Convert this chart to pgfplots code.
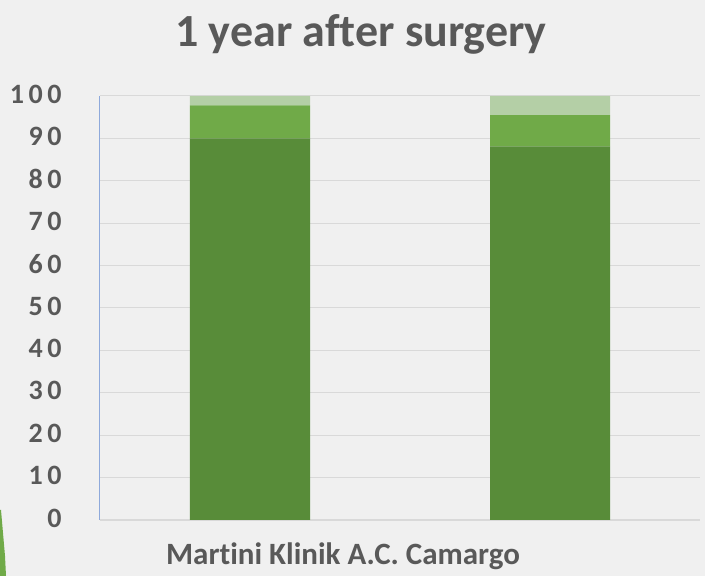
\documentclass[border=0pt]{standalone}
\usepackage{pgfplots}
\pgfplotsset{compat=1.18}
\usepackage{fontspec}
\setmainfont[Ligatures=NoCommon]{Carlito}
\newfontfamily\tickfont[LetterSpace=16]{Carlito}
\newcommand\tickf{\tickfont\bfseries\fontsize{28}{30}\selectfont}
\definecolor{bg}{HTML}{F0F0F0}
\definecolor{txt}{HTML}{595959}
\definecolor{gdark}{HTML}{588C39}
\definecolor{gmid}{HTML}{70AA48}
\definecolor{glight}{HTML}{B4CFA6}
\definecolor{gridc}{HTML}{D9D9D9}
\definecolor{axblue}{HTML}{8EA9DB}
\begin{document}
\begin{tikzpicture}
\useasboundingbox (0pt,0pt) rectangle (705pt,576pt);
\fill[bg] (0pt,0pt) rectangle (705pt,576pt);
\fill[gmid] (0pt,66pt) -- (1pt,66pt) -- (5pt,20pt) -- (6pt,0pt) -- (0pt,0pt) -- cycle;
\node[txt,font=\fontsize{46}{50}\selectfont\bfseries] at (361pt,542pt) {1 year after surgery};
\node[txt,font=\fontsize{31}{34}\selectfont\bfseries] at (343pt,20pt) {Martini Klinik A.C. Camargo};
\begin{axis}[
  at={(100pt,56pt)}, anchor=south west,
  scale only axis, width=600pt, height=424pt,
  xmin=-0.5, xmax=1.5, ymin=0, ymax=100,
  ybar stacked, bar width=120pt,
  ytick={0,10,...,100},
  xtick=\empty,
  ymajorgrids, grid style={gridc, line width=1pt},
  axis line style={draw=none},
  y tick label style={txt, font=\tickf, anchor=east},
  /pgf/number format/assume math mode=true,
  yticklabel style={xshift=-35pt, yshift=2pt},
  major tick length=0pt,
  clip=false,
]
\addplot[fill=gdark, draw=none] coordinates {(0,90.0) (1,88.1)};
\addplot[fill=gmid, draw=none] coordinates {(0,7.8) (1,7.4)};
\addplot[fill=glight, draw=none] coordinates {(0,2.2) (1,4.5)};
\draw[gridc, line width=1.5pt] (axis cs:-0.5,0) -- (axis cs:1.5,0);
\draw[axblue, line width=1pt] (axis cs:-0.5,0) -- (axis cs:-0.5,100);
\end{axis}
\end{tikzpicture}
\end{document}
